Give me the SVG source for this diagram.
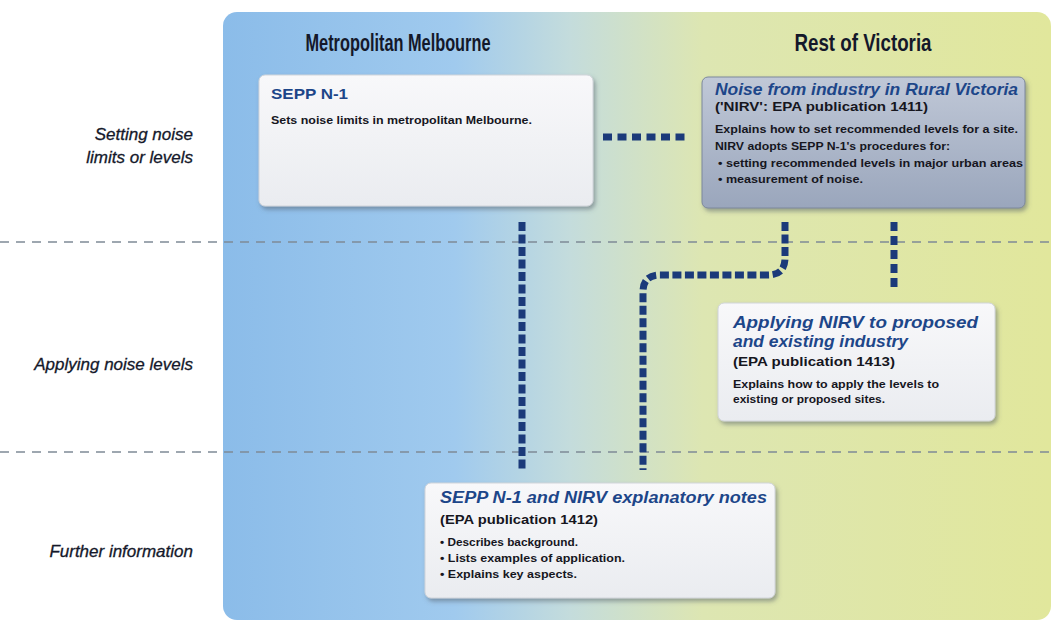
<svg xmlns="http://www.w3.org/2000/svg" width="1054" height="622" viewBox="0 0 1054 622">
<defs>
<linearGradient id="bg" x1="223" y1="0" x2="1050" y2="0" gradientUnits="userSpaceOnUse">
<stop offset="0" stop-color="#8bbce9"/>
<stop offset="0.28" stop-color="#a0caee"/>
<stop offset="0.42" stop-color="#c4dcdc"/>
<stop offset="0.58" stop-color="#dde6b2"/>
<stop offset="1" stop-color="#e1e79c"/>
</linearGradient>
<linearGradient id="grey" x1="0" y1="0" x2="0" y2="1">
<stop offset="0" stop-color="#c0c8d7"/>
<stop offset="1" stop-color="#9aa6bc"/>
</linearGradient>
<linearGradient id="white" x1="0" y1="0" x2="0" y2="1">
<stop offset="0" stop-color="#f8f8fa"/>
<stop offset="1" stop-color="#eaecf0"/>
</linearGradient>
<filter id="sh" x="-5%" y="-5%" width="115%" height="120%">
<feDropShadow dx="2" dy="3" stdDeviation="2" flood-color="#505a66" flood-opacity="0.5"/>
</filter>
<style>
.h{font-family:"Liberation Sans Narrow","Liberation Sans",sans-serif;font-weight:bold;font-size:23px;fill:#14182a}
.lab{font-family:"Liberation Sans Narrow","Liberation Sans",sans-serif;font-style:italic;font-size:17px;fill:#14182a;text-anchor:end;stroke:#14182a;stroke-width:0.3}
.t{font-family:"Liberation Sans Narrow","Liberation Sans",sans-serif;font-weight:bold;font-style:italic;font-size:16px;fill:#1d4689}
.t2{font-family:"Liberation Sans Narrow","Liberation Sans",sans-serif;font-weight:bold;font-size:15px;fill:#1d4689}
.p{font-family:"Liberation Sans Narrow","Liberation Sans",sans-serif;font-weight:bold;font-size:13px;fill:#16161e}
.b{font-family:"Liberation Sans Narrow","Liberation Sans",sans-serif;font-weight:bold;font-size:11px;fill:#16161e}
.box{fill:url(#white);stroke:#d0d4da;stroke-width:1;filter:url(#sh)}
.gl{stroke:#7f8b97;stroke-width:1.5;stroke-dasharray:9 7;fill:none}
.c{stroke:#1b3a7a;stroke-width:7;fill:none;stroke-dasharray:9 3.5}
</style>
</defs>
<rect x="223" y="12" width="828" height="608" rx="14" fill="url(#bg)"/>
<g id="row-labels">
<text class="lab" x="193" y="140">Setting noise</text>
<text class="lab" x="193" y="163">limits or levels</text>
<text class="lab" x="193" y="370">Applying noise levels</text>
<text class="lab" x="193" y="557">Further information</text>
</g>
<g id="headings">
<text class="h" x="398" y="51" text-anchor="middle" textLength="185" lengthAdjust="spacingAndGlyphs">Metropolitan Melbourne</text>
<text class="h" x="863" y="51" text-anchor="middle" textLength="137" lengthAdjust="spacingAndGlyphs">Rest of Victoria</text>
</g>
<g id="grid">
<line class="gl" x1="0" y1="242" x2="1054" y2="242"/>
<line class="gl" x1="0" y1="452" x2="1054" y2="452"/>
</g>
<g id="connectors">
<line class="c" x1="603" y1="137" x2="690" y2="137" stroke-width="8" style="stroke-dasharray:9 5.5"/>
<line class="c" x1="522" y1="222" x2="522" y2="470"/>
<path class="c" d="M785 222 V258 Q785 275 768 275 H660 Q643 275 643 292 V470"/>
<line class="c" x1="894" y1="222" x2="894" y2="290" style="stroke-dasharray:9 5"/>
</g>
<g id="sepp">
<rect class="box" x="259" y="75" width="334" height="131" rx="6"/>
<text class="t2" x="271" y="99" textLength="77" lengthAdjust="spacingAndGlyphs">SEPP N-1</text>
<text class="b" x="271" y="124" textLength="261" lengthAdjust="spacingAndGlyphs">Sets noise limits in metropolitan Melbourne.</text>
</g>
<g id="nirv">
<rect x="702" y="77" width="323" height="131" rx="6" fill="url(#grey)" stroke="#7d889c" stroke-width="1" filter="url(#sh)"/>
<text class="t" x="715" y="95" textLength="303" lengthAdjust="spacingAndGlyphs">Noise from industry in Rural Victoria</text>
<text class="p" x="715" y="111" textLength="213" lengthAdjust="spacingAndGlyphs">('NIRV': EPA publication 1411)</text>
<text class="b" x="715" y="133" textLength="303" lengthAdjust="spacingAndGlyphs">Explains how to set recommended levels for a site.</text>
<text class="b" x="715" y="150" textLength="235" lengthAdjust="spacingAndGlyphs">NIRV adopts SEPP N-1's procedures for:</text>
<text class="b" x="718" y="167" textLength="305" lengthAdjust="spacingAndGlyphs">• setting recommended levels in major urban areas</text>
<text class="b" x="718" y="183" textLength="145" lengthAdjust="spacingAndGlyphs">• measurement of noise.</text>
</g>
<g id="applying">
<rect class="box" x="718" y="303" width="277" height="118" rx="6"/>
<text class="t" x="733" y="328" textLength="245" lengthAdjust="spacingAndGlyphs">Applying NIRV to proposed</text>
<text class="t" x="733" y="347" textLength="175" lengthAdjust="spacingAndGlyphs">and existing industry</text>
<text class="p" x="733" y="366" textLength="162" lengthAdjust="spacingAndGlyphs">(EPA publication 1413)</text>
<text class="b" x="733" y="388" textLength="206" lengthAdjust="spacingAndGlyphs">Explains how to apply the levels to</text>
<text class="b" x="733" y="403" textLength="152" lengthAdjust="spacingAndGlyphs">existing or proposed sites.</text>
</g>
<g id="notes">
<rect class="box" x="425" y="483" width="350" height="115" rx="6"/>
<text class="t" x="440" y="503" textLength="327" lengthAdjust="spacingAndGlyphs">SEPP N-1 and NIRV explanatory notes</text>
<text class="p" x="440" y="524" textLength="158" lengthAdjust="spacingAndGlyphs">(EPA publication 1412)</text>
<text class="b" x="440" y="546" textLength="138" lengthAdjust="spacingAndGlyphs">• Describes background.</text>
<text class="b" x="440" y="562" textLength="185" lengthAdjust="spacingAndGlyphs">• Lists examples of application.</text>
<text class="b" x="440" y="578" textLength="137" lengthAdjust="spacingAndGlyphs">• Explains key aspects.</text>
</g>
</svg>
